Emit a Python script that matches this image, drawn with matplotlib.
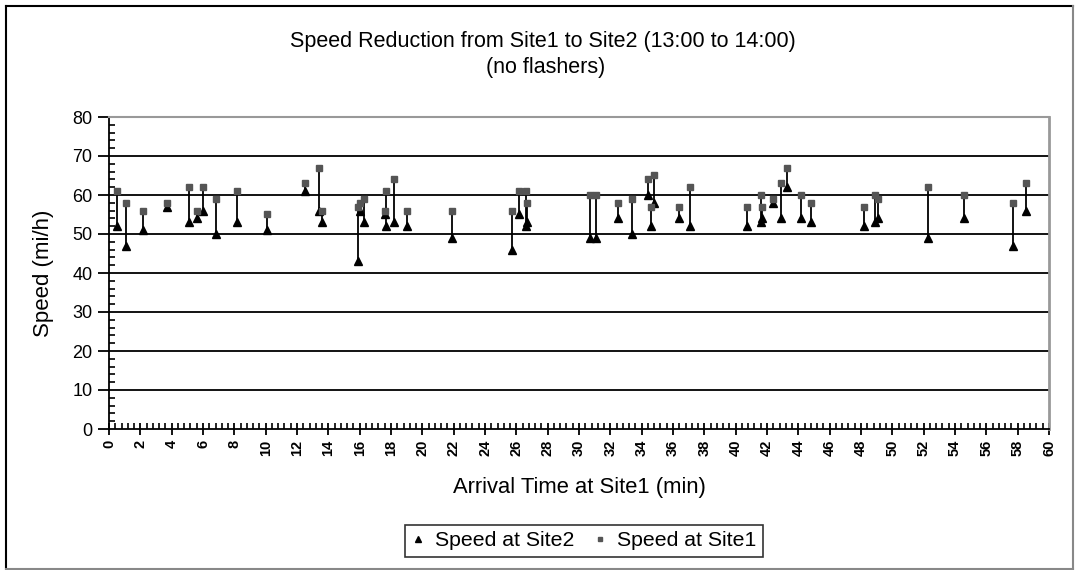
import matplotlib
matplotlib.use("Agg")
import matplotlib.pyplot as plt
from matplotlib.lines import Line2D
from matplotlib.ticker import MultipleLocator

plt.rcParams['font.family'] = ['Liberation Sans', 'DejaVu Sans']

# arrival time at Site1 (min) and speeds (mi/h)
arrival = [0.5, 1.1, 2.2, 3.7, 5.1, 5.6, 6.0, 6.8, 8.2, 10.1,
           12.5, 13.4, 13.6, 15.9, 16.0, 16.3, 17.6, 17.7, 18.2, 19.0,
           21.9, 25.7, 26.2, 26.6, 26.7, 30.7, 31.1, 32.5, 33.4, 34.4,
           34.6, 34.8, 36.4, 37.1, 40.7, 41.6, 41.7, 42.4, 42.9, 43.3,
           44.2, 44.8, 48.2, 48.9, 49.1, 52.3, 54.6, 57.7, 58.5]
speed_site2 = [52, 47, 51, 57, 53, 54, 56, 50, 53, 51,
               61, 56, 53, 43, 56, 53, 55, 52, 53, 52,
               49, 46, 55, 52, 53, 49, 49, 54, 50, 60,
               52, 58, 54, 52, 52, 53, 54, 58, 54, 62,
               54, 53, 52, 53, 54, 49, 54, 47, 56]
speed_site1 = [61, 58, 56, 58, 62, 56, 62, 59, 61, 55,
               63, 67, 56, 57, 58, 59, 56, 61, 64, 56,
               56, 56, 61, 61, 58, 60, 60, 58, 59, 64,
               57, 65, 57, 62, 57, 60, 57, 59, 63, 67,
               60, 58, 57, 60, 59, 62, 60, 58, 63]

W, H = 1075, 570
fig = plt.figure(figsize=(W / 100, H / 100), dpi=100)
ax = fig.add_axes([109 / W, 1 - 429 / H, 940 / W, 312 / H])

# gridlines first so the data sits on top
for v in range(10, 80, 10):
    ax.axhline(v, color='black', lw=1.3, zorder=1)

# drop lines between the two speeds
ax.vlines(arrival, speed_site2, speed_site1, color='black', lw=1.3, zorder=2)
ax.plot(arrival, speed_site2, '^', color='black', ms=5.5, zorder=3, label='Speed at Site2')
ax.plot(arrival, speed_site1, 's', color='#555555', ms=4.5, zorder=3, label='Speed at Site1')

ax.set_xlim(0, 60)
ax.set_ylim(0, 80)
ax.xaxis.set_major_locator(MultipleLocator(2))
ax.xaxis.set_minor_locator(MultipleLocator(0.4))
ax.yaxis.set_major_locator(MultipleLocator(10))
ax.yaxis.set_minor_locator(MultipleLocator(2))

ax.tick_params(axis='y', which='major', direction='out', length=8, width=1.3, labelsize=13, pad=4)
ax.tick_params(axis='y', which='minor', direction='in', length=4, width=1.2)
ax.tick_params(axis='x', which='major', direction='inout', length=9, width=1.3, labelsize=10.5, pad=3)
ax.tick_params(axis='x', which='minor', direction='in', length=4, width=1.2)
for lab in ax.get_xticklabels():
    lab.set_rotation(90)
    lab.set_fontweight('bold')

ax.spines['left'].set_linewidth(1.3)
ax.spines['bottom'].set_linewidth(1.3)
ax.spines['top'].set_color('#999999')
ax.spines['right'].set_color('#999999')
ax.spines['top'].set_linewidth(1.5)
ax.spines['right'].set_linewidth(2)

fig.text(543 / W, 1 - 42 / H, 'Speed Reduction from Site1 to Site2 (13:00 to 14:00)',
         ha='center', va='center', fontsize=15.5)
fig.text(546 / W, 1 - 68 / H, '(no flashers)', ha='center', va='center', fontsize=15.5)
fig.text(579 / W, 1 - 487 / H, 'Arrival Time at Site1 (min)', ha='center', va='center',
         fontsize=15.8)
fig.text(44 / W, 1 - 273 / H, 'Speed (mi/h)', ha='center', va='center', rotation=90,
         fontsize=16)

handles = [Line2D([], [], ls='none', marker='^', color='black', ms=4),
           Line2D([], [], ls='none', marker='s', color='#555555', ms=3.5)]
leg = fig.legend(handles, ['Speed at Site2', 'Speed at Site1'], loc='center',
                 bbox_to_anchor=(584 / W, 1 - 541 / H), ncol=2, frameon=True,
                 fancybox=False, edgecolor='black', fontsize=15.3, handlelength=0.6,
                 handletextpad=0.5, columnspacing=0.9, borderpad=0.3)
leg.get_frame().set_linewidth(1.2)

# outer chart frame: dark on top/left, grey on bottom/right
fig.add_artist(Line2D([6 / W, 6 / W], [1 - 6 / H, 1 - 569 / H], color='black', lw=1.5))
fig.add_artist(Line2D([6 / W, 1073 / W], [1 - 6 / H, 1 - 6 / H], color='black', lw=1.5))
fig.add_artist(Line2D([1073 / W, 1073 / W], [1 - 6 / H, 1 - 569 / H], color='#888888', lw=1.5))
fig.add_artist(Line2D([6 / W, 1073 / W], [1 - 569 / H, 1 - 569 / H], color='#888888', lw=1.5))

fig.savefig('out.png', dpi=100)
